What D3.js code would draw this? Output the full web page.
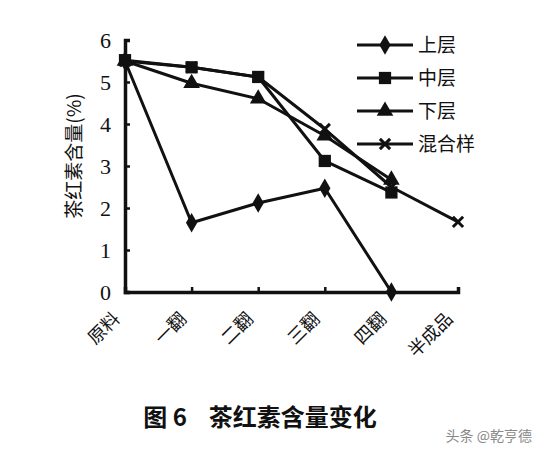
<!DOCTYPE html>
<html>
<head>
<meta charset="utf-8">
<script src="https://cdn.jsdelivr.net/npm/d3@7"></script>
<style>
  body { margin: 0; background: #fff; }
  svg { display: block; }
  .tick text { font-family: "Liberation Serif", "DejaVu Serif", serif; }
</style>
</head>
<body>
<div id="chart"></div>
<script>
// categories along the x axis
var stages = ["原料", "一翻", "二翻", "三翻", "四翻", "半成品"];
var yTicks = [0, 1, 2, 3, 4, 5, 6];

// series values (null = no point)
var upper = [5.5, 1.65, 2.12, 2.47, 0, null];
var middle = [5.52, 5.35, 5.12, 3.12, 2.37, null];
var lower = [5.5, 4.97, 4.6, 3.72, 2.67, null];
var mixed = [5.5, 5.35, 5.12, 3.88, 2.5, 1.67];

var seriesNames = ["上层", "中层", "下层", "混合样"];
var symbols = ["diamond", "square", "triangle", "cross"];

var series = [upper, middle, lower, mixed].map(function (v, i) {
	return { name: seriesNames[i], values: v, symbol: symbols[i] };
});

var W = 546, H = 452;
var margin = { top: 40, right: 88, bottom: 160, left: 125 };
var width = W - margin.left - margin.right,
	height = H - margin.top - margin.bottom;

var svg = d3.select("#chart").append("svg")
	.attr("width", W)
	.attr("height", H);

var g = svg.append("g")
	.attr("transform", "translate(" + margin.left + "," + margin.top + ")");

var x = d3.scalePoint()
	.domain(stages)
	.range([0, width]);

var y = d3.scaleLinear()
	.domain([0, 6])
	.range([height, 0]);

// marker drawing
function marker(sel, type) {
	if (type === "diamond") {
		sel.append("path")
			.attr("d", d3.symbol().type(d3.symbolDiamond).size(110))
			.attr("fill", "#111");
	} else if (type === "square") {
		sel.append("path")
			.attr("d", d3.symbol().type(d3.symbolSquare).size(150))
			.attr("fill", "#111");
	} else if (type === "triangle") {
		sel.append("path")
			.attr("d", d3.symbol().type(d3.symbolTriangle).size(120))
			.attr("fill", "#111");
	} else {
		sel.append("path")
			.attr("d", d3.symbol().type(d3.symbolX).size(70))
			.attr("fill", "none")
			.attr("stroke", "#111")
			.attr("stroke-width", 3);
	}
}

var line = d3.line()
	.defined(function (d) { return d !== null; })
	.x(function (d, i) { return x(stages[i]); })
	.y(function (d) { return y(d); });

// lines (draw mixed first so squares sit on top)
var order = [3, 0, 2, 1];
order.forEach(function (k) {
	var s = series[k];
	g.append("path")
		.datum(s.values)
		.attr("fill", "none")
		.attr("stroke", "#111")
		.attr("stroke-width", 3)
		.attr("stroke-linejoin", "round")
		.attr("d", line);
});

order.forEach(function (k) {
	var s = series[k];
	s.values.forEach(function (v, i) {
		if (v === null) return;
		var m = g.append("g")
			.attr("transform", "translate(" + x(stages[i]) + "," + y(v) + ")");
		marker(m, s.symbol);
	});
});

// axes
var xAxis = d3.axisBottom(x).tickSize(-5).tickFormat("");
var yAxis = d3.axisLeft(y).tickValues(yTicks).tickSize(-5).tickPadding(14).tickFormat(d3.format("d"));

var gx = g.append("g")
	.attr("transform", "translate(0," + height + ")")
	.call(xAxis);
gx.select(".domain").attr("stroke", "#111").attr("stroke-width", 3.5);
gx.selectAll(".tick line").attr("stroke", "#111").attr("stroke-width", 2.5);

var gy = g.append("g").call(yAxis);
gy.select(".domain").attr("stroke", "#111").attr("stroke-width", 3.5);
gy.selectAll(".tick line").attr("stroke", "#111").attr("stroke-width", 2.5);
gy.selectAll(".tick text")
	.attr("font-size", 22)
	.attr("fill", "#111");

// rotated category labels
g.selectAll(".xlab")
	.data(stages)
	.enter()
	.append("text")
	.attr("class", "xlab")
	.attr("text-anchor", "end")
	.attr("font-family", "Noto Sans CJK SC")
	.attr("font-size", 18)
	.attr("fill", "#111")
	.attr("transform", function (d) {
		return "translate(" + (x(d) - 4) + "," + (height + 28) + ") rotate(-45)";
	})
	.text(function (d) { return d; });

// y label
g.append("text")
	.attr("text-anchor", "middle")
	.attr("font-family", "Noto Sans CJK SC")
	.attr("font-size", 19)
	.attr("fill", "#111")
	.attr("transform", "translate(-44," + (height / 2 - 10) + ") rotate(-90)")
	.text("茶红素含量(%)");

// legend
var legend = g.append("g")
	.attr("transform", "translate(" + (357 - margin.left) + "," + (45 - margin.top) + ")");
series.forEach(function (s, i) {
	var row = legend.append("g").attr("transform", "translate(0," + (i * 33) + ")");
	row.append("line")
		.attr("x1", 0).attr("x2", 56)
		.attr("stroke", "#111").attr("stroke-width", 3);
	var m = row.append("g").attr("transform", "translate(28,0)");
	marker(m, s.symbol);
	row.append("text")
		.attr("x", 61)
		.attr("dy", "0.35em")
		.attr("font-family", "Noto Sans CJK SC")
		.attr("font-size", 19)
		.attr("fill", "#111")
		.text(s.name);
});

// title
svg.append("text")
	.attr("x", 260)
	.attr("y", 426)
	.attr("text-anchor", "middle")
	.attr("font-family", "Noto Sans CJK SC")
	.attr("font-weight", "bold")
	.attr("font-size", 24)
	.attr("fill", "#111")
	.attr("xml:space", "preserve")
	.text("图 6    茶红素含量变化");

// watermark
svg.append("text")
	.attr("x", 532)
	.attr("y", 441)
	.attr("text-anchor", "end")
	.attr("font-family", "Noto Sans CJK SC")
	.attr("font-size", 14)
	.attr("fill", "#888")
	.text("头条 @乾亨德");
</script>
</body>
</html>
